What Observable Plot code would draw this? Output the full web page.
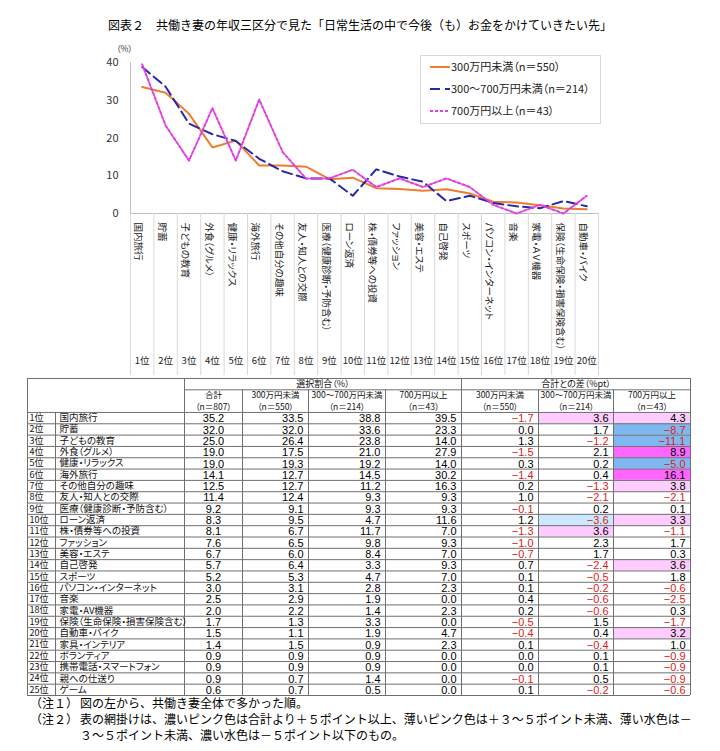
<!DOCTYPE html>
<html><head><meta charset="utf-8">
<script src="https://cdn.jsdelivr.net/npm/d3@7"></script>
<script src="https://cdn.jsdelivr.net/npm/@observablehq/plot@0.6"></script>
<style>
body{margin:0;background:#fff;}
#root{position:relative;width:720px;height:751px;overflow:hidden;font-family:"Noto Sans CJK JP",sans-serif;color:#000;}
svg text{font-feature-settings:"palt";}
.note{position:absolute;font-size:12px;line-height:16px;white-space:nowrap;font-family:"Noto Sans CJK JP",sans-serif;}
</style></head><body><div id="root"></div>
<script>
// ---- data ----
const ranks = [1,2,3,4,5,6,7,8,9,10,11,12,13,14,15,16,17,18,19,20,21,22,23,24,25];
const items = ["国内旅行","貯蓄","子どもの教育","外食（グルメ）","健康・リラックス","海外旅行","その他自分の趣味","友人・知人との交際","医療（健康診断・予防含む）","ローン返済","株・債券等への投資","ファッション","美容・エステ","自己啓発","スポーツ","パソコン・インターネット","音楽","家電・AV機器","保険（生命保険・損害保険含む）","自動車・バイク","家具・インテリア","ボランティア","携帯電話・スマートフォン","親への仕送り","ゲーム"];
const chartItems = ["国内旅行","貯蓄","子どもの教育","外食（グルメ）","健康・リラックス","海外旅行","その他自分の趣味","友人・知人との交際","医療（健康診断・予防含む）","ローン返済","株・債券等への投資","ファッション","美容・エステ","自己啓発","スポーツ","パソコン・インターネット","音楽","家電・ＡＶ機器","保険（生命保険・損害保険含む）","自動車・バイク"];
const total = [35.2,32.0,25.0,19.0,19.0,14.1,12.5,11.4,9.2,8.3,8.1,7.6,6.7,5.7,5.2,3.0,2.5,2.0,1.7,1.5,1.4,0.9,0.9,0.9,0.6];
const lt300 = [33.5,32.0,26.4,17.5,19.3,12.7,12.7,12.4,9.1,9.5,6.7,6.5,6.0,6.4,5.3,3.1,2.9,2.2,1.3,1.1,1.5,0.9,0.9,0.7,0.7];
const mid = [38.8,33.6,23.8,21.0,19.2,14.5,11.2,9.3,9.3,4.7,11.7,9.8,8.4,3.3,4.7,2.8,1.9,1.4,3.3,1.9,0.9,0.9,0.9,1.4,0.5];
const hi = [39.5,23.3,14.0,27.9,14.0,30.2,16.3,9.3,9.3,11.6,7.0,9.3,7.0,9.3,7.0,2.3,0.0,2.3,0.0,4.7,2.3,0.0,0.0,0.0,0.0];
const dLt300 = [-1.7,0.0,1.3,-1.5,0.3,-1.4,0.2,1.0,-0.1,1.2,-1.3,-1.0,-0.7,0.7,0.1,0.1,0.4,0.2,-0.5,-0.4,0.1,0.0,0.0,-0.1,0.1];
const dMid = [3.6,1.7,-1.2,2.1,0.2,0.4,-1.3,-2.1,0.2,-3.6,3.6,2.3,1.7,-2.4,-0.5,-0.2,-0.6,-0.6,1.5,0.4,-0.4,0.1,0.1,0.5,-0.2];
const dHi = [4.3,-8.7,-11.1,8.9,-5.0,16.1,3.8,-2.1,0.1,3.3,-1.1,1.7,0.3,3.6,1.8,-0.6,-2.5,0.3,-1.7,3.2,1.0,-0.9,-0.9,-0.9,-0.6];
const yTicks = [0,10,20,30,40];
const seriesNames = ["300万円未満（n＝550）","300～700万円未満（n＝214）","700万円以上（n＝43）"];
const groupHeads = ["選択割合（%）","合計との差（%pt）"];
const colHeads = ["合計","300万円未満","300～700万円未満","700万円以上","300万円未満","300～700万円未満","700万円以上"];
const colN = ["（n＝807）","（n＝550）","（n＝214）","（n＝43）","（n＝550）","（n＝214）","（n＝43）"];
const title = "図表２　共働き妻の年収三区分で見た「日常生活の中で今後（も）お金をかけていきたい先」";
const note1a = "（注１）", note1b = "図の左から、共働き妻全体で多かった順。";
const note2a = "（注２）", note2b = "表の網掛けは、濃いピンク色は合計より＋５ポイント以上、薄いピンク色は＋３～５ポイント未満、薄い水色は－", note2c = "３～５ポイント未満、濃い水色は－５ポイント以下のもの。";

// ---- styles ----
const FONT = "Noto Sans CJK JP, sans-serif";
const NUMFONT = "Liberation Sans Narrow, Liberation Sans, Arial, sans-serif";
const seriesStyle = [
  {stroke:"#ED7D31", dash:null},
  {stroke:"#2828A8", dash:"10,5"},
  {stroke:"#E040E0", dash:"3,2"}
];
const root = document.getElementById("root");
function place(el, left, top){ el.style.position="absolute"; el.style.left=left+"px"; el.style.top=top+"px"; root.appendChild(el); return el; }

// title
const t = document.createElement("div");
t.textContent = title; t.style.fontSize="12px"; t.style.whiteSpace="nowrap"; t.style.lineHeight="16px";
place(t, 108, 17);

// ---- chart ----
const n = 20;
const seriesVals = [lt300, mid, hi];
const lineData = seriesVals.flatMap((arr, s) => ranks.slice(0, n).map((r, i) => ({rank:r, value:arr[i], s})));
const chartData = ranks.slice(0, n).map((r,i) => ({rank:r, item:chartItems[i]}));
const bounds = [0.5].concat(ranks.slice(0,n).map(r => r + 0.5));

const chart = Plot.plot({
  width:720, height:173, marginTop:22, marginBottom:0, marginLeft:130, marginRight:122,
  style:{fontFamily:FONT, background:"transparent", overflow:"visible"},
  x:{domain:[0.5, 20.5], axis:null},
  y:{domain:[0,40], axis:null},
  marks:[
    Plot.ruleY([0], {x1:0.5, x2:20.5, stroke:"#bfbfbf"}),
    Plot.ruleX([0.5], {y1:0, y2:40, stroke:"#bfbfbf"}),
    Plot.axisY({ticks:yTicks, tickSize:0, tickPadding:12, fontSize:11, fill:"#333", tickFormat:d=>d, label:null}),
    Plot.text(["（%）"], {x:0.5, y:40, dy:-13, dx:-6, fontSize:8.5, fill:"#333"}),
    ...seriesVals.map((arr, s) => Plot.line(lineData.filter(d => d.s === s), {
      x:"rank", y:"value", stroke:seriesStyle[s].stroke, strokeWidth:2,
      strokeDasharray:seriesStyle[s].dash, strokeLinejoin:"round"
    }))
  ]
});
place(chart, 0, 40);

// category strip
const strip = Plot.plot({
  width:720, height:162, marginTop:0, marginBottom:0, marginLeft:130, marginRight:122,
  style:{fontFamily:FONT, background:"transparent", overflow:"visible"},
  x:{domain:[0.5, 20.5], axis:null},
  marks:[
    Plot.ruleX(bounds, {stroke:"#d9d9d9"}),
    Plot.text(chartData, {x:"rank", text:"item", frameAnchor:"top", rotate:90, textAnchor:"start", dy:9, fontSize:9.5, fill:"#222"}),
    Plot.text(chartData, {x:"rank", text:d => d.rank + "位", frameAnchor:"bottom", dy:-12, fontSize:9.5, fill:"#222"})
  ]
});
place(strip, 0, 213);

// legend
const lg = d3.create("svg").attr("width", 182).attr("height", 69).style("font-family", FONT);
lg.append("rect").attr("x",0.5).attr("y",0.5).attr("width",180).attr("height",68).attr("fill","#fff").attr("stroke","#d9d9d9");
seriesNames.forEach((name, s) => {
  const y = 12 + s*22;
  lg.append("line").attr("x1",10).attr("x2",30).attr("y1",y).attr("y2",y)
    .attr("stroke",seriesStyle[s].stroke).attr("stroke-width",2).attr("stroke-dasharray",seriesStyle[s].dash);
  lg.append("text").attr("x",31).attr("y",y).attr("dy","0.35em").attr("font-size",11).attr("fill","#222").text(name);
});
place(lg.node(), 420, 55);

// ---- table ----
const colEdges = [27, 55, 184, 242, 308, 385, 461, 538, 613, 690];
const rows = ranks.map((r,i) => ({rank:r, item:items[i], vals:[total[i], lt300[i], mid[i], hi[i], dLt300[i], dMid[i], dHi[i]]}));
const cells = rows.flatMap(row => row.vals.map((v,j) => ({rank:row.rank, j, v})));
function shade(d){
  if (d.j < 4) return null;
  if (d.v >= 5) return "#FF66FF";
  if (d.v >= 3) return "#FFCCFF";
  if (d.v <= -5) return "#7FB8F0";
  if (d.v <= -3) return "#CCE8FF";
  return null;
}
const shaded = cells.filter(d => shade(d));
const fmt = v => v < 0 ? "−" + Math.abs(v).toFixed(1) : v.toFixed(1);
const hRules = [{y:0, x1:27, x2:690}, {y:1, x1:184, x2:690}]
  .concat(ranks.map(r => ({y:r+2, x1:27, x2:690})))
  .concat([{y:ranks.length+3, x1:27, x2:690}]);
const vRules = [
  {x:27,y1:0},{x:55,y1:3},{x:184,y1:0},{x:242,y1:1},{x:308,y1:1},{x:385,y1:1},{x:461,y1:0},{x:538,y1:1},{x:613,y1:1},{x:690,y1:0}
].map(d => ({...d, y2:ranks.length+3}));
const colHeadData = colHeads.map((h,j) => ({h, nn:colN[j], cx:(colEdges[j+2]+colEdges[j+3])/2}));
const groupData = [{h:groupHeads[0], cx:(184+461)/2}, {h:groupHeads[1], cx:(461+690)/2}];

const table = Plot.plot({
  width:720, height:322, margin:0,
  style:{fontFamily:FONT, background:"transparent", overflow:"visible"},
  x:{type:"identity", axis:null},
  y:{domain:[0, 28], range:[3, 320], axis:null},
  marks:[
    Plot.rect(shaded, {x1:d => colEdges[d.j+2], x2:d => colEdges[d.j+3], y1:d => d.rank+2, y2:d => d.rank+3, fill:shade}),
    Plot.ruleY(hRules, {y:"y", x1:"x1", x2:"x2", stroke:"#707070", strokeWidth:1}),
    Plot.ruleX(vRules, {x:"x", y1:"y1", y2:"y2", stroke:"#707070", strokeWidth:1}),
    Plot.text(groupData, {x:"cx", y:0.5, text:"h", fontSize:9, fill:"#111"}),
    Plot.text(colHeadData, {x:"cx", y:1.5, text:"h", fontSize:8.5, fill:"#111"}),
    Plot.text(colHeadData, {x:"cx", y:2.5, text:"nn", fontSize:8.5, fill:"#111"}),
    Plot.text(rows, {x:29, y:d => d.rank+2.5, text:d => d.rank + "位", textAnchor:"start", fontSize:9, fill:"#111"}),
    Plot.text(rows, {x:59, y:d => d.rank+2.5, text:"item", textAnchor:"start", fontSize:9.5, fill:"#111"}),
    Plot.text(cells.filter(d => d.j === 0), {x:(184+242)/2, y:d => d.rank+2.55, text:d => fmt(d.v), fontSize:11, fontFamily:NUMFONT, fill:"#000"}),
    Plot.text(cells.filter(d => d.j > 0), {x:d => colEdges[d.j+3]-5, y:d => d.rank+2.55, text:d => fmt(d.v), textAnchor:"end", fontSize:11, fontFamily:NUMFONT, fill:d => d.v < 0 ? "#E01818" : "#000"})
  ]
});
place(table, 0, 375);

// notes
function note(text, left, top){ const d = document.createElement("div"); d.className="note"; d.textContent=text; d.style.left=left+"px"; d.style.top=top+"px"; root.appendChild(d); }
note(note1a, 30, 695); note(note1b, 80, 695);
note(note2a, 30, 711); note(note2b, 80, 711);
note(note2c, 80, 727);
</script></body></html>
